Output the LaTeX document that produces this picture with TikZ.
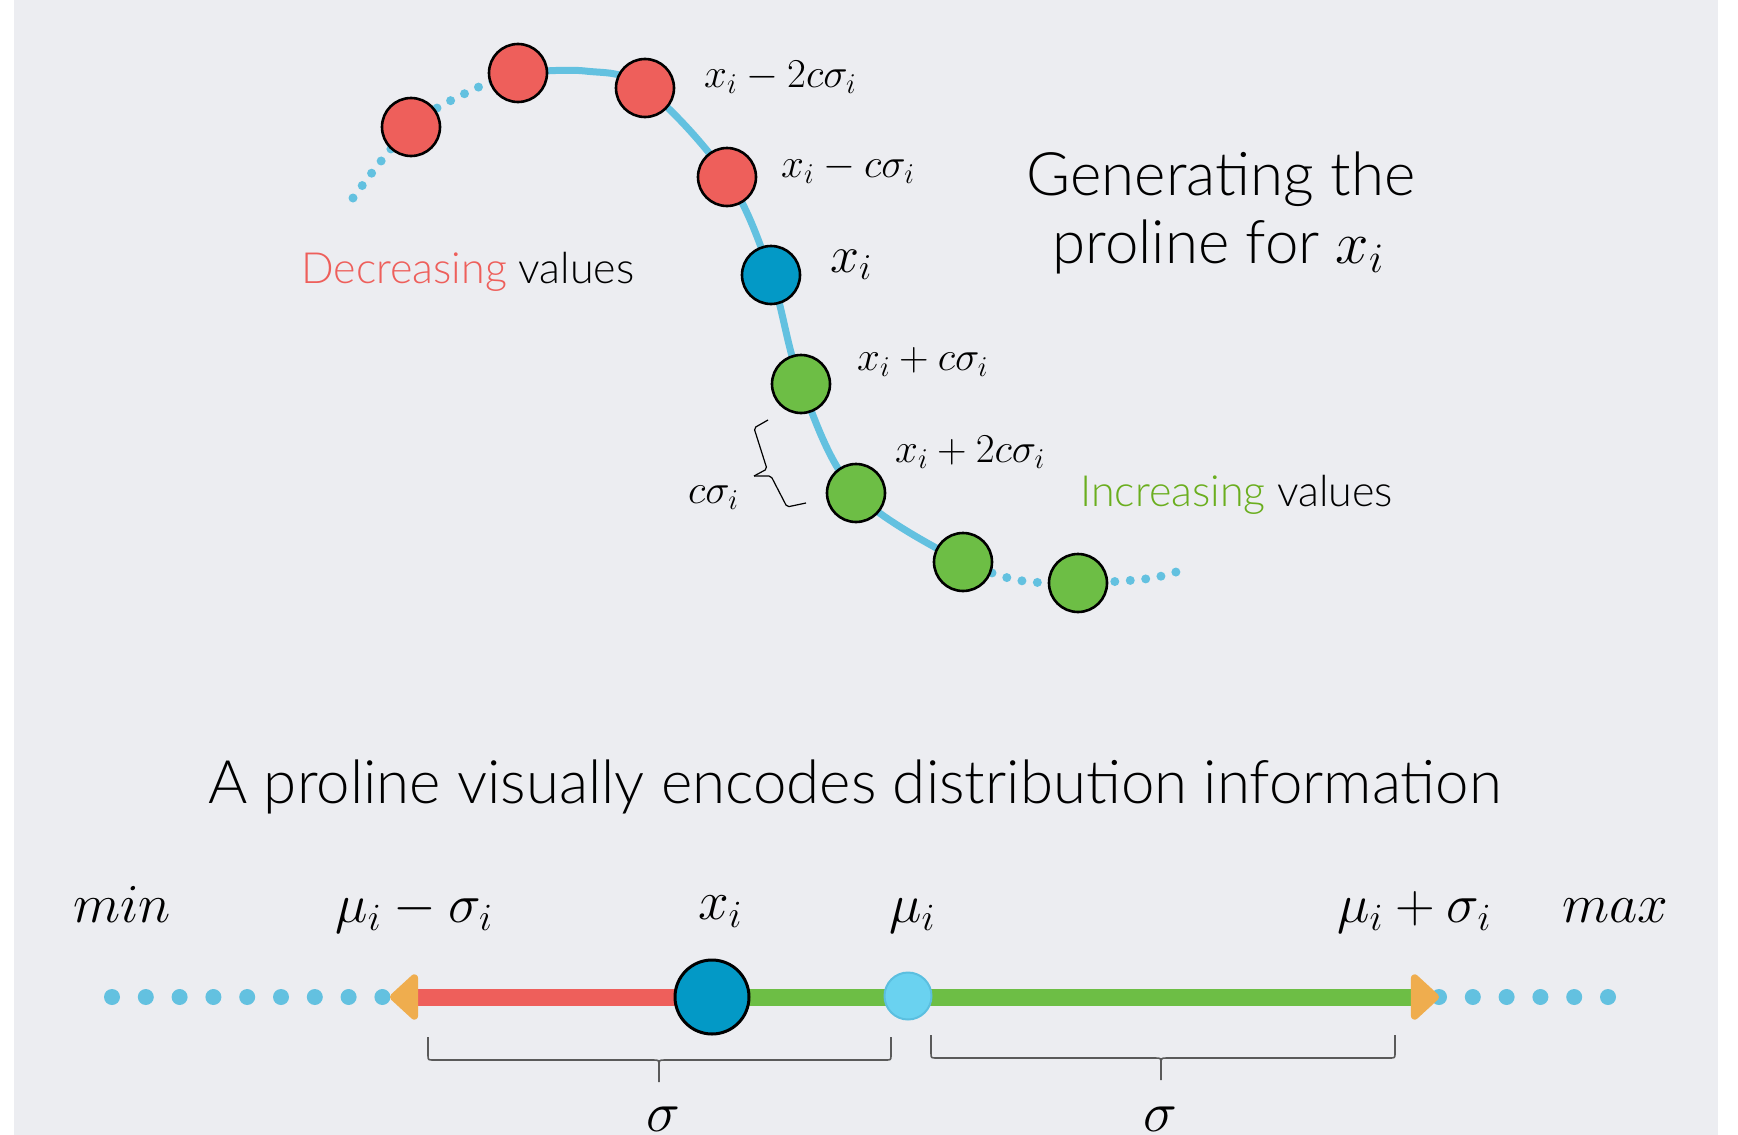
\RequirePackage{fix-cm}
\documentclass[tikz,border=0pt]{standalone}
\usepackage[no-math]{fontspec}
\IfFontExistsTF{Lato Light}{\setmainfont{Lato Light}}{\setmainfont{Lato}}
\usetikzlibrary{decorations.pathreplacing,arrows.meta}
\definecolor{bgc}{HTML}{ECEDF1}
\definecolor{redc}{HTML}{EE5F5B}
\definecolor{greenc}{HTML}{6DBE45}
\definecolor{bluec}{HTML}{0399C6}
\definecolor{cyanc}{HTML}{63C1E0}
\definecolor{lightc}{HTML}{6AD2F0}
\definecolor{lightedge}{HTML}{5BBFE0}
\definecolor{orangec}{HTML}{EFAD4E}
\definecolor{inctext}{HTML}{6AAE1E}
\definecolor{bracec}{HTML}{5A5A5A}
\pgfdeclarelayer{bglayer}
\pgfdeclarelayer{midlayer}
\pgfsetlayers{bglayer,midlayer,main}
\newcommand\hbrace[5]{%
  \draw[bracestyle] (#1,#3) -- (#1,#4-5) .. controls (#1,#4) .. (#1+6,#4) -- (#5-6,#4) .. controls (#5,#4) .. (#5,#4+6) -- (#5,#4+22);
  \draw[bracestyle] (#2,#3) -- (#2,#4-5) .. controls (#2,#4) .. (#2-6,#4) -- (#5+6,#4) .. controls (#5,#4) .. (#5,#4+6);
}
\begin{document}
\begin{tikzpicture}[x=1pt,y=-1pt,
  dot/.style={circle, draw=black, line width=2.6pt, minimum size=58pt, inner sep=0pt},
  rdot/.style={dot, fill=redc},
  gdot/.style={dot, fill=greenc},
  bdot/.style={dot, fill=bluec},
  curve/.style={cyanc, line width=7pt},
  dotline/.style={cyanc, line width=9pt, line cap=round, dash pattern=on 0pt off 15.5pt},
  bigdots/.style={cyanc, line width=16pt, line cap=round, dash pattern=on 0pt off 33.8pt},
  mlab/.style={anchor=base west, inner sep=0pt, font=\fontsize{41}{45}\selectfont},
  blab/.style={anchor=base, inner sep=0pt, font=\fontsize{55}{60}\selectfont},
  ttl/.style={anchor=base, inner sep=0pt, font=\fontsize{60}{66}\selectfont},
  vlab/.style={anchor=base west, inner sep=0pt, font=\fontsize{43}{50}\selectfont},
  bar/.style={line width=17pt},
  tipo/.style={-{Triangle[color=orangec, fill=orangec, length=30pt, width=53pt, round]}},
  bracestyle/.style={bracec, line width=1.6pt},
  smallbrace/.style={black, line width=1.2pt, rounded corners=2pt},
]
\useasboundingbox (0,0) rectangle (1738,1135);
\begin{pgfonlayer}{bglayer}
  \fill[white] (0,0) rectangle (1738,1135);
  \fill[bgc] (14,0) rectangle (1718,1135);
\end{pgfonlayer}

% ---- top: generating the proline ----
\node[rdot] (r1) at (411,127) {};
\node[rdot] (r2) at (518,73) {};
\node[rdot] (r3) at (645,88) {};
\node[rdot] (r4) at (727,177) {};
\node[bdot] (b) at (771,275) {};
\node[gdot] (g1) at (801,384) {};
\node[gdot] (g2) at (856,493) {};
\node[gdot] (g3) at (963,562) {};
\node[gdot] (g4) at (1078,583) {};
\coordinate (dstart) at (353,198);
\coordinate (dmid) at (470,91);
\coordinate (gmid) at (1017,580);
\coordinate (gmid2) at (1145,579);
\coordinate (dend) at (1176,572);

\begin{pgfonlayer}{midlayer}
  \draw[curve] plot[smooth, tension=0.6] coordinates {(r2.center) (585,71) (r3.center) (r4.center) (b.center) (g1.center) (g2.center) (g3.center)};
  \draw[dotline] plot[smooth, tension=0.6] coordinates {(dstart) (r1.center) (dmid) (r2.center)};
  \draw[dotline] plot[smooth, tension=0.6] coordinates {(g3.center) (gmid) (g4.center) (gmid2) (dend)};
\end{pgfonlayer}

\node[mlab] (l1) at (704,87) {$x_i-2c\sigma_i$};
\node[mlab] (l2) at (781,177) {$x_i-c\sigma_i$};
\node[mlab, font=\fontsize{52}{56}\selectfont] (l3) at (830,272) {$x_i$};
\node[mlab] (l4) at (857,370) {$x_i+c\sigma_i$};
\node[mlab] (l5) at (895,462) {$x_i+2c\sigma_i$};
\node[mlab] (l6) at (688,503) {$c\sigma_i$};
\coordinate (brt) at (768,420);
\coordinate (brb) at (806,503);
\coordinate (brtip) at (754,476);
\draw[smallbrace] (brt) -- (754,428) -- (767,469) -- (brtip);
\draw[smallbrace] (brtip) -- (771,476) -- (787,507) -- (brb);

\node[vlab] (dec) at (301,283) {\textcolor{redc}{Decreasing} values};
\node[vlab] (inc) at (1080,506) {\textcolor{inctext}{Increasing} values};
\node[ttl] (gen1) at (1221,195) {Generating the};
\node[ttl] (gen2) at (1218,263) {proline for $x_i$};
\node[ttl] (enc) at (855,803) {A proline visually encodes distribution information};

% ---- bottom: proline ----
\node[circle, draw=black, line width=3pt, fill=bluec, minimum size=74pt, inner sep=0pt] (xb) at (712,997) {};
\node[circle, draw=lightedge, line width=2pt, fill=lightc, minimum size=47pt, inner sep=0pt] (mu) at (908,996) {};
\coordinate (lt) at (390,997);
\coordinate (rt) at (1439,997);
\coordinate (ldots) at (112,997);
\coordinate (ldend) at (383,997);
\coordinate (rdend) at (1608,997);
\begin{pgfonlayer}{midlayer}
  \draw[bigdots] (ldots) -- (ldend);
  \draw[bigdots] (rt) -- (rdend);
  \draw[bar, redc, tipo] (xb.center) -- (lt);
  \draw[bar, greenc, tipo] (xb.center) -- (rt);
\end{pgfonlayer}

\node[blab] (mn) at (122,922) {$min$};
\node[blab] (mms) at (414,922) {$\mu_i-\sigma_i$};
\node[blab] (xl) at (720,919) {$x_i$};
\node[blab] (mul) at (912,922) {$\mu_i$};
\node[blab] (mps) at (1414,922) {$\mu_i+\sigma_i$};
\node[blab] (mx) at (1615,922) {$max$};

\hbrace{428}{891}{1037}{1060}{659}
\hbrace{931}{1395}{1035}{1058}{1161}
\node[blab, font=\fontsize{57}{60}\selectfont] (s1) at (663,1131) {$\sigma$};
\node[blab, font=\fontsize{57}{60}\selectfont] (s2) at (1160,1131) {$\sigma$};
\end{tikzpicture}
\end{document}
